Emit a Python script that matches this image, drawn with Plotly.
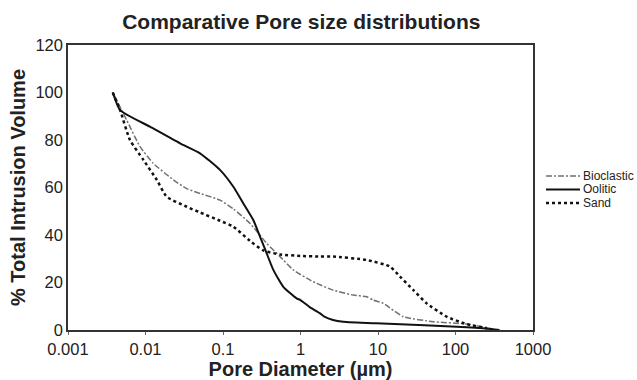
import plotly.graph_objects as go

# Data (x = pore diameter in µm, y = % total intrusion volume)
oolitic_x = [0.00378, 0.0047, 0.0114, 0.0279, 0.0505, 0.0914, 0.136, 0.183, 0.246, 0.30, 0.366, 0.446, 0.60, 0.89, 1.0, 1.33, 1.79, 2.03, 2.63, 3.56, 9.5, 40, 104, 250, 370]
oolitic_y = [100, 92.6, 85.6, 78.6, 74.4, 67.4, 60.3, 53.3, 46.3, 39.3, 32.3, 25.3, 18.2, 13.3, 12.6, 9.5, 7.0, 5.6, 4.2, 3.5, 2.8, 2.0, 1.4, 0.6, 0]

bio_x = [0.00378, 0.00571, 0.0085, 0.0126, 0.0229, 0.034, 0.0505, 0.0914, 0.136, 0.223, 0.366, 0.545, 0.807, 1.46, 2.63, 4.79, 7.14, 8.69, 11.7, 21.2, 51.8, 138, 279, 309]
bio_y = [100, 88.4, 77.2, 70.2, 63.2, 59.5, 57.5, 54.7, 51.0, 44.9, 36.5, 30.9, 25.3, 20.3, 16.8, 14.7, 14.0, 12.6, 11.2, 5.6, 3.5, 2.5, 0.7, 0]

sand_x = [0.00378, 0.0047, 0.0063, 0.0094, 0.014, 0.0188, 0.034, 0.0505, 0.0914, 0.136, 0.223, 0.331, 0.545, 1.0, 1.79, 2.63, 7.1, 14.3, 19.2, 28.6, 42.5, 76.9, 138, 251, 300]
sand_y = [100, 92.6, 80, 71.6, 63.2, 56.1, 51.9, 49.5, 46.0, 43.5, 37.5, 33.5, 31.8, 31.2, 30.9, 30.9, 29.5, 26.7, 22.5, 16.8, 11.2, 5.6, 2.5, 0.7, 0]

series_names = ["Bioclastic", "Oolitic", "Sand"]

x_tickvals = [0.001, 0.01, 0.1, 1, 10, 100, 1000]
x_ticktext = ["0.001", "0.01", "0.1", "1", "10", "100", "1000"]
y_tickvals = [0, 20, 40, 60, 80, 100, 120]

FONT = "Liberation Sans, Arial, Helvetica, sans-serif"
styles = [
    dict(color="#707070", width=1.5, dash="6px,2px,2px,2px"),
    dict(color="#111111", width=2),
    dict(color="#111111", width=2.5, dash="3px,3px"),
]

fig = go.Figure()
for name, xs, ys, st in zip(series_names, [bio_x, oolitic_x, sand_x], [bio_y, oolitic_y, sand_y], styles):
    fig.add_trace(go.Scatter(x=xs, y=ys, mode="lines", name=name, showlegend=False,
                             line=dict(shape="spline", smoothing=0.5, **st)))

# compact legend (manual, tight row spacing like the reference)
legend_y = [0.540, 0.493, 0.446]
for name, ly, st in zip(series_names, legend_y, styles):
    fig.add_shape(type="line", xref="paper", yref="paper", x0=1.028, x1=1.101, y0=ly, y1=ly,
                  line=st)
    fig.add_annotation(xref="paper", yref="paper", x=1.104, y=ly, xanchor="left", yanchor="middle",
                       text=name, showarrow=False, font=dict(size=12, color="#222222"))

fig.update_layout(
    width=637, height=380,
    margin=dict(l=68, r=104, t=45, b=50),
    paper_bgcolor="white", plot_bgcolor="white",
    font=dict(family=FONT, color="#222222"),
    title=dict(text="<b>Comparative Pore size distributions</b>", x=0.473, xanchor="center",
               y=0.942, yanchor="middle", font=dict(size=21, color="#222222")),
    showlegend=False,
    xaxis=dict(type="log", range=[-3, 3], tickvals=x_tickvals, ticktext=x_ticktext,
               showgrid=False, zeroline=False, showline=True, mirror=True,
               linecolor="#333333", linewidth=1.5, ticks="outside", ticklen=3,
               tickcolor="#666666", tickfont=dict(size=16.5), automargin=False,
               title=dict(text="<b>Pore Diameter (µm)</b>", font=dict(size=20), standoff=3)),
    yaxis=dict(range=[0, 120], tickvals=y_tickvals, showgrid=False, zeroline=False,
               showline=True, mirror=True, linecolor="#333333", linewidth=1.5,
               ticks="", tickfont=dict(size=16.5), automargin=False,
               title=dict(text="<b>% Total Intrusion Volume</b>", font=dict(size=20), standoff=4)),
)

fig.write_html("out.html", config={"displayModeBar": False},
               post_script="document.body.style.margin='0';")
